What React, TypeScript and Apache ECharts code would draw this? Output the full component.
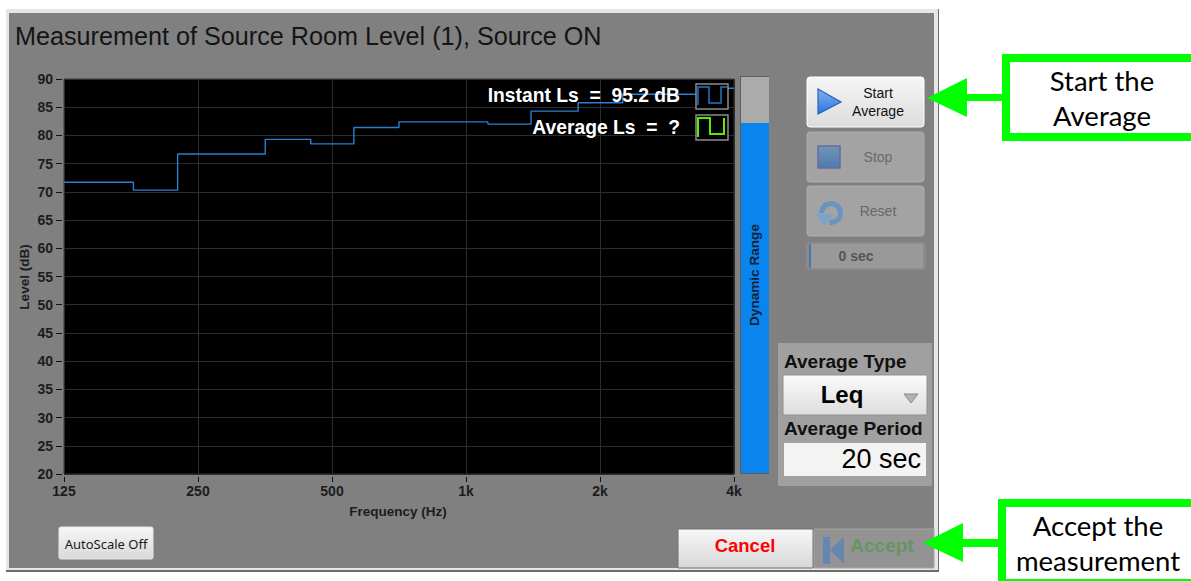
import React, { useEffect, useRef } from "react";
import * as echarts from "echarts";

const titleText = "Measurement of Source Room Level (1), Source ON";
const tickLabels = ["125", "250", "500", "1k", "2k", "4k"];
const baseFrequency = 125;
const bandEdgesHz = [125, 179, 225, 354, 448, 560, 707, 1120, 1400, 1786, 2250, 3570, 4000];
const levelsDb = [71.7, 70.3, 76.7, 79.3, 78.5, 81.4, 82.4, 82.0, 84.3, 85.8, 87.3, 88.35, 88.35];
const dynamicRangeTop = [82.2];

const octaves = (f: number) => Math.log2(f / baseFrequency);
const FONT = '"Liberation Sans", Arial, sans-serif';
const FAMILY = "Liberation Sans";
const DARK = "#1c1c1c";

const grad = (a: string, b: string) =>
  new echarts.graphic.LinearGradient(0, 0, 0, 1, [
    { offset: 0, color: a },
    { offset: 1, color: b },
  ]);
const rect = (x: number, y: number, w: number, h: number, fill: any, extra: any = {}) => ({
  type: "rect",
  shape: { x, y, width: w, height: h, r: extra.r || 0 },
  style: { fill, stroke: extra.stroke, lineWidth: extra.lineWidth || 0 },
  z: extra.z ?? -5,
});
const label = (text: string, x: number, y: number, font: string, fill: string, align = "center", z = -3, rotation = 0) => ({
  type: "text",
  x,
  y,
  rotation,
  style: { text, font, fill, textAlign: align, textVerticalAlign: "middle" },
  z,
});
const poly = (points: number[][], fill: any, extra: any = {}) => ({
  type: "polygon",
  shape: { points },
  style: { fill, stroke: extra.stroke, lineWidth: extra.lineWidth || 0 },
  z: extra.z ?? -3,
});
const pline = (points: number[][], stroke: string, lineWidth: number, z = 20) => ({
  type: "polyline",
  shape: { points },
  style: { stroke, lineWidth, fill: "none" },
  z,
});

const GREEN = "#00ff00";
const graphics: any[] = [
  // window frame
  rect(6, 9, 933, 563, "#6d6d6d", { z: -12 }),
  rect(6, 9, 932, 561, "#e6e6e6", { z: -11 }),
  rect(9, 13, 925, 555, "#808080", { z: -10 }),
  label(titleText, 15, 36, `25.2px ${FONT}`, "#141414", "left"),
  label("Level (dB)", 24, 277, `bold 13.5px ${FONT}`, DARK, "center", -3, Math.PI / 2),
  label("Frequency (Hz)", 398, 511, `bold 13.5px ${FONT}`, DARK),

  // legend over plot
  label("Instant Ls  =  95.2 dB", 680, 95, `bold 19.3px ${FONT}`, "#ffffff", "right", 30),
  label("Average Ls  =  ?", 680, 127, `bold 19.3px ${FONT}`, "#ffffff", "right", 30),
  rect(696, 84, 32, 25, "#000000", { stroke: "#8c8c8c", lineWidth: 1.5, z: 25 }),
  rect(696, 115, 32, 25, "#000000", { stroke: "#8c8c8c", lineWidth: 1.5, z: 25 }),
  pline([[698, 105], [698, 87], [709, 87], [709, 103], [721, 103], [721, 87], [727, 87]], "#2277c8", 1.5, 30),
  pline([[698, 137], [698, 118], [710, 118], [710, 134], [724, 134], [724, 118]], "#55ee00", 2, 30),
  rect(740, 76, 29, 398, "#5e5e5e", { z: -4 }),
  rect(741, 77, 28, 10, "#ababab", { z: -3 }),
  label("Dynamic Range", 754, 275, `bold 13.6px ${FONT}`, "#10233a", "center", 30, Math.PI / 2),

  // side buttons
  rect(807, 77, 117, 50, grad("#f6f6f6", "#dcdcdc"), { r: 3, stroke: "#ffffff", lineWidth: 1 }),
  poly([[818, 89], [841, 102], [818, 114]], grad("#7fb4f0", "#2a74dc"), { stroke: "#2a5fc0", lineWidth: 1.2 }),
  label("Start", 878, 93, `14px ${FONT}`, "#111111"),
  label("Average", 878, 111, `14px ${FONT}`, "#111111"),
  rect(807, 132, 117, 50, "#a3a3a3", { r: 3, stroke: "#adadad", lineWidth: 1 }),
  rect(818, 146, 22, 22, grad("#6f96b8", "#4f7bac"), { stroke: "#6a6aa8", lineWidth: 1.5, z: -3 }),
  label("Stop", 878, 157, `14px ${FONT}`, "#6a6a6a"),
  rect(807, 186, 117, 50, "#a3a3a3", { r: 3, stroke: "#adadad", lineWidth: 1 }),
  {
    type: "arc",
    shape: { cx: 831, cy: 213, r: 9.5, startAngle: -Math.PI * 1.0, endAngle: Math.PI * 0.55 },
    style: { stroke: "#6b93bd", lineWidth: 5, fill: "none" },
    z: -3,
  },
  poly([[815, 214], [833, 214], [825, 226]], "#7ea3c8"),
  label("Reset", 878, 211, `14px ${FONT}`, "#686868"),
  rect(806, 242, 120, 28, "#8a8a8a", { r: 2 }),
  rect(811, 244, 112, 24, "#999999", {}),
  rect(809, 244, 2, 24, "#4b78a8", { z: -3 }),
  label("0 sec", 856, 256, `bold 14px ${FONT}`, "#555555"),

  // average panel
  rect(778, 343, 154, 143, "#a0a0a0"),
  label("Average Type", 784, 361, `bold 19px ${FONT}`, "#111111", "left"),
  rect(783, 375, 144, 40, grad("#fbfbfb", "#dddddd"), { stroke: "#8f8f8f", lineWidth: 1, z: -4 }),
  label("Leq", 842, 394, `bold 24px ${FONT}`, "#000000"),
  poly([[904, 394], [918, 394], [911, 403]], "#b4b4b4", { stroke: "#8a8a8a", lineWidth: 1 }),
  label("Average Period", 784, 428, `bold 19px ${FONT}`, "#111111", "left"),
  rect(784, 443, 142, 33, "#f3f3f3", { z: -4 }),
  label("20 sec", 921, 459, `27px ${FONT}`, "#000000", "right"),

  // bottom buttons
  rect(59, 527, 94, 32, grad("#f7f7f7", "#d9d9d9"), { r: 2, stroke: "#e8e8e8", lineWidth: 1 }),
  label("AutoScale Off", 106, 544, `13px "Noto Sans", sans-serif`, "#1a1a1a"),
  rect(678, 529, 135, 39, grad("#f7f7f7", "#d8d8d8"), { stroke: "#707070", lineWidth: 1 }),
  label("Cancel", 745, 545, `bold 18.5px ${FONT}`, "#ff0000"),
  rect(814, 529, 120, 39, "#939393", { stroke: "#a4a4a4", lineWidth: 1 }),
  rect(823, 537, 7, 27, "#6486b0"),
  poly([[830, 550], [844, 537], [844, 564]], "#6486b0"),
  label("Accept", 882, 545, `bold 19px ${FONT}`, "#659660"),

  // callouts
  rect(1002, 54, 200, 87, "#ffffff", { stroke: GREEN, lineWidth: 0, z: -2 }),
  rect(1002, 54, 200, 8, GREEN, { z: -1 }),
  rect(1002, 133, 200, 8, GREEN, { z: -1 }),
  rect(1002, 54, 8, 87, GREEN, { z: -1 }),
  poly([[927, 98], [967, 78], [967, 117]], GREEN),
  rect(966, 94, 37, 7, GREEN, { z: -3 }),
  label("Start the", 1102, 80, `27.5px Lato, sans-serif`, "#000000", "center", 1),
  label("Average", 1102, 115, `27.5px Lato, sans-serif`, "#000000", "center", 1),

  rect(998, 499, 200, 82, GREEN, { z: -2 }),
  rect(1006, 507, 190, 72, "#ffffff", { z: -1 }),
  poly([[923, 543], [963, 523], [963, 562]], GREEN),
  rect(962, 539, 37, 8, GREEN, { z: -3 }),
  label("Accept the", 1098, 525, `27.5px Lato, sans-serif`, "#000000", "center", 1),
  label("measurement", 1098, 560, `27.5px Lato, sans-serif`, "#000000", "center", 1),
];

const hiddenAxisLine = { show: true, onZero: false, lineStyle: { color: "rgba(0,0,0,0)" } };

export default function App() {
  const ref = useRef<HTMLDivElement>(null);
  useEffect(() => {
    const chart = echarts.init(ref.current!, undefined, { renderer: "svg" });
    chart.setOption({
      animation: false,
      backgroundColor: "#ffffff",
      grid: [
        { left: 64, top: 79, width: 670, height: 395, show: true, backgroundColor: "#000000", borderColor: "#3a3a3a", borderWidth: 1 },
        { left: 741, top: 79, width: 28, height: 394, show: false },
      ],
      xAxis: [
        {
          type: "value",
          gridIndex: 0,
          min: 0,
          max: 5,
          interval: 1,
          offset: 3,
          axisLine: hiddenAxisLine,
          axisTick: { show: true, length: 5, inside: false, lineStyle: { color: "#111111", width: 1 } },
          axisLabel: {
            margin: 7,
            fontFamily: FAMILY,
            fontWeight: "bold",
            fontSize: 14,
            color: DARK,
            showMinLabel: true,
            showMaxLabel: true,
            formatter: (v: number) => tickLabels[Math.round(v)],
          },
          splitLine: { show: true, lineStyle: { color: "#2c2c2c", width: 1 } },
        },
        { type: "category", gridIndex: 1, data: ["Dynamic Range"], show: false },
      ],
      yAxis: [
        {
          type: "value",
          gridIndex: 0,
          min: 20,
          max: 90,
          interval: 5,
          offset: 2,
          axisLine: hiddenAxisLine,
          axisTick: { show: true, length: 6, lineStyle: { color: "#111111", width: 1 } },
          axisLabel: { margin: 9, fontFamily: FAMILY, fontWeight: "bold", fontSize: 14, color: DARK },
          splitLine: { show: true, lineStyle: { color: "#2c2c2c", width: 1 } },
        },
        { type: "value", gridIndex: 1, min: 20, max: 90, show: false },
      ],
      series: [
        {
          type: "line",
          xAxisIndex: 0,
          yAxisIndex: 0,
          step: "end",
          symbol: "none",
          lineStyle: { color: "#2a7fd0", width: 1.4 },
          data: bandEdgesHz.map((f, i) => [octaves(f), levelsDb[i]]),
          z: 5,
        },
        {
          type: "bar",
          xAxisIndex: 1,
          yAxisIndex: 1,
          barWidth: "100%",
          data: dynamicRangeTop,
          itemStyle: { color: "#0a84ee" },
          showBackground: true,
          backgroundStyle: { color: "#ababab" },
        },
      ],
      graphic: { elements: graphics },
    });
    return () => chart.dispose();
  }, []);
  return <div ref={ref} style={{ position: "fixed", left: 0, top: 0, width: 1191, height: 581 }} />;
}
